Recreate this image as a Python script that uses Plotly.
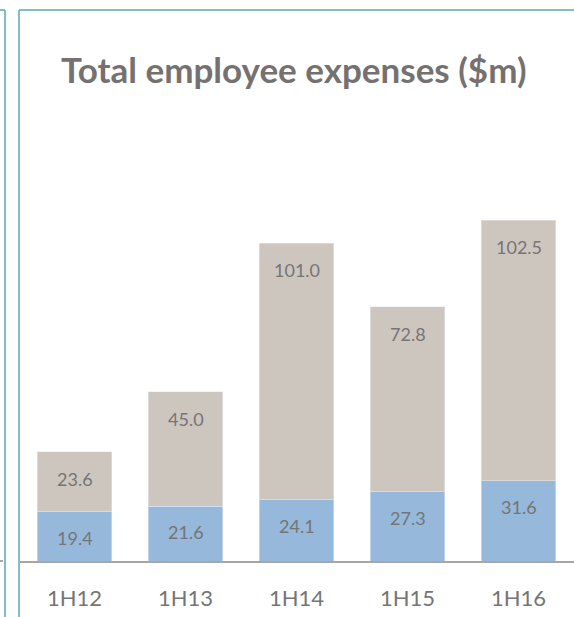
import plotly.graph_objects as go

periods = ["1H12", "1H13", "1H14", "1H15", "1H16"]
base_part = [19.4, 21.6, 24.1, 27.3, 31.6]
other_part = [23.6, 45.0, 101.0, 72.8, 102.5]

BLUE = "#95b8db"
TAN = "#cdc6bf"
TEAL = "#82bcc6"
TXT = "#757575"

fig = go.Figure()
fig.add_trace(go.Bar(x=periods, y=base_part, marker_color=BLUE, hoverinfo="skip"))
fig.add_trace(go.Bar(x=periods, y=other_part, marker_color=TAN, hoverinfo="skip"))

# value labels near the top of each segment
for i, p in enumerate(periods):
    b = base_part[i]
    o = other_part[i]
    fig.add_annotation(x=p, y=b, text=f"{b:.1f}", showarrow=False, yshift=-26,
                       font=dict(family="Lato", size=18, color=TXT))
    fig.add_annotation(x=p, y=b + o, text=f"{o:.1f}", showarrow=False, yshift=-27,
                       font=dict(family="Lato", size=18, color=TXT))

fig.update_layout(
    width=574, height=617,
    barmode="stack", bargap=0.33,
    showlegend=False,
    plot_bgcolor="white", paper_bgcolor="white",
    margin=dict(l=19, r=0, t=10, b=56),
    title=dict(text="<b>Total employee expenses ($m)</b>",
               font=dict(family="Lato", size=35, color="#767171"),
               xref="paper", x=0.495, xanchor="center",
               yref="container", y=1 - 71 / 617, yanchor="middle"),
    xaxis=dict(showline=True, linecolor="#a6a6a6", linewidth=2,
               tickfont=dict(family="Lato", size=22, color=TXT),
               ticklabelstandoff=17, showgrid=False, fixedrange=True),
    yaxis=dict(range=[0, 551 / 2.54], visible=False, showgrid=False, fixedrange=True),
    shapes=[
        # main panel border
        dict(type="line", xref="paper", yref="paper", x0=0, x1=0, y0=-0.3, y1=1,
             line=dict(color=TEAL, width=2)),
        dict(type="line", xref="paper", yref="paper", x0=0, x1=1.1, y0=1, y1=1,
             line=dict(color=TEAL, width=2)),
        # edge of neighbouring panel
        dict(type="line", xref="paper", yref="paper", x0=-14 / 555, x1=-14 / 555, y0=-0.3, y1=1,
             line=dict(color=TEAL, width=2)),
        dict(type="line", xref="paper", yref="paper", x0=-0.05, x1=-14 / 555, y0=1, y1=1,
             line=dict(color=TEAL, width=2)),
        dict(type="line", xref="paper", yref="paper", x0=-0.05, x1=-16 / 555, y0=0, y1=0,
             line=dict(color="#a6a6a6", width=2)),
    ],
)

# page body has a default margin; drop it so the figure sits at the corner
fig.write_html("out.html", config={"displayModeBar": False},
               post_script="document.body.style.margin='0px';")
